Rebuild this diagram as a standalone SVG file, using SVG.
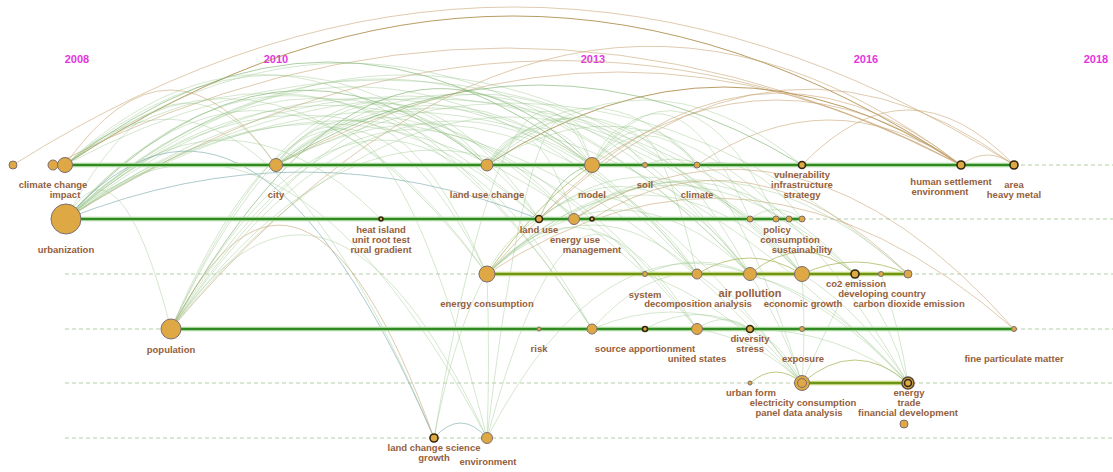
<svg xmlns="http://www.w3.org/2000/svg" width="1113" height="472" viewBox="0 0 1113 472">
<style>
.yr{font-family:"Liberation Sans",Arial,sans-serif;font-weight:bold;font-size:11px;fill:#e535e0;text-anchor:middle}
.lb{font-family:"Liberation Sans",Arial,sans-serif;font-weight:bold;font-size:9.5px;fill:#95603c;text-anchor:middle}
.big{font-size:11px}
.dash{stroke:#cfe0c8;stroke-width:1.3;stroke-dasharray:4 3;fill:none}
.halo{stroke:#a9d49a;stroke-width:4.5;fill:none}
.core{stroke:#2f8a24;stroke-width:2;fill:none}
.haloo{stroke:#c3d47f;stroke-width:4.5;fill:none}
.coreo{stroke:#6c9416;stroke-width:2;fill:none}
#connectors path{fill:none;stroke-width:1}
.g{stroke:#9cc58c;stroke-opacity:.42}
.gd{stroke:#5e9e4c;stroke-opacity:.5}
.t{stroke:#caa97a;stroke-opacity:.6}
.td{stroke:#a8843f;stroke-opacity:.8;stroke-width:1.4}
.b{stroke:#6c9ea2;stroke-opacity:.55}
.o{stroke:#a9b55a;stroke-opacity:.75;stroke-width:1.3}
.n{fill:#dea845;stroke:#7d6d70;stroke-width:1}
.k{fill:#dea845;stroke:#33260f;stroke-width:1.6}
</style>

<g id="years">
<text class="yr" x="77" y="63">2008</text>
<text class="yr" x="276" y="63">2010</text>
<text class="yr" x="593" y="63">2013</text>
<text class="yr" x="866" y="63">2016</text>
<text class="yr" x="1096" y="63">2018</text>
</g>

<g id="gridlines">
<line class="dash" x1="1014" y1="165" x2="1113" y2="165"/>
<line class="dash" x1="802" y1="219" x2="1113" y2="219"/>
<line class="dash" x1="65" y1="274" x2="487" y2="274"/>
<line class="dash" x1="908" y1="274" x2="1113" y2="274"/>
<line class="dash" x1="65" y1="329" x2="171" y2="329"/>
<line class="dash" x1="1014" y1="329" x2="1113" y2="329"/>
<line class="dash" x1="65" y1="383" x2="1113" y2="383"/>
<line class="dash" x1="65" y1="438" x2="1113" y2="438"/>
</g>

<g id="connectors">
<path class="t" d="M13 165 Q513.5 -151 1014 165"/>
<path class="td" d="M65 165 Q513 -133 961 165"/>
<path class="t" d="M53 165 Q507 -69 961 165"/>
<path class="t" d="M171 329 Q566 -137 961 165"/>
<path class="t" d="M276 165 Q618.5 -21 961 165"/>
<path class="td" d="M487 165 Q724 9 961 165"/>
<path class="t" d="M592 165 Q776.5 35 961 165"/>
<path class="t" d="M66 219 Q513.5 -68 961 165"/>
<path class="t" d="M961 165 Q987.5 145 1014 165"/>
<path class="t" d="M487 274 Q750.5 -29.5 1014 165"/>
<path class="t" d="M697 165 Q829 75 961 165"/>
<path class="t" d="M802 165 Q908 55 1014 165"/>
<path class="t" d="M487 274 Q750.5 98.5 1014 329"/>
<path class="t" d="M539 219 Q750 -2 961 165"/>
<path class="t" d="M65 165 Q170.5 15 276 165"/>
<path class="g" d="M65 165 Q276 -15 487 165"/>
<path class="gd" d="M65 165 Q328.5 -41 592 165"/>
<path class="g" d="M65 165 Q302 -2 539 219"/>
<path class="g" d="M65 165 Q276 -9.5 487 274"/>
<path class="g" d="M65 165 Q407.5 -83.5 750 274"/>
<path class="g" d="M65 165 Q328.5 -77 592 329"/>
<path class="g" d="M65 165 Q381 -5 697 165"/>
<path class="g" d="M65 165 Q249.5 -1.5 434 438"/>
<path class="g" d="M66 219 Q171 18 276 165"/>
<path class="gd" d="M66 219 Q276.5 -8 487 165"/>
<path class="g" d="M66 219 Q329 8 592 165"/>
<path class="g" d="M66 219 Q223.5 61 381 219"/>
<path class="g" d="M66 219 Q302.5 11 539 219"/>
<path class="g" d="M66 219 Q320 -23 574 219"/>
<path class="g" d="M66 219 Q276.5 -22.5 487 274"/>
<path class="g" d="M66 219 Q329 -74 592 329"/>
<path class="g" d="M66 219 Q381.5 -70.5 697 274"/>
<path class="g" d="M66 219 Q408 -86.5 750 274"/>
<path class="g" d="M66 219 Q434 -94.5 802 274"/>
<path class="g" d="M66 219 Q381.5 -54 697 329"/>
<path class="g" d="M66 219 Q408 -27 750 219"/>
<path class="g" d="M66 219 Q355.5 3.5 645 274"/>
<path class="b" d="M66 219 Q250 11.5 434 438"/>
<path class="g" d="M66 219 Q276.5 41.5 487 438"/>
<path class="g" d="M66 219 Q460.5 -46.5 855 274"/>
<path class="b" d="M66 219 Q302.5 125 539 219"/>
<path class="g" d="M66 219 Q118.5 126 171 329"/>
<path class="g" d="M66 219 Q487 -60 908 383"/>
<path class="g" d="M66 219 Q434 -40 802 383"/>
<path class="g" d="M171 329 Q329 -17 487 165"/>
<path class="gd" d="M171 329 Q381.5 -47 592 165"/>
<path class="g" d="M171 329 Q329 -41.5 487 274"/>
<path class="g" d="M171 329 Q355 -58 539 219"/>
<path class="g" d="M171 329 Q460.5 -111.5 750 274"/>
<path class="g" d="M171 329 Q486.5 -65.5 802 274"/>
<path class="g" d="M171 329 Q381.5 -49 592 329"/>
<path class="g" d="M171 329 Q434 -57.5 697 274"/>
<path class="g" d="M171 329 Q372.5 -4 574 219"/>
<path class="g" d="M171 329 Q434 -29 697 329"/>
<path class="g" d="M171 329 Q329 96.5 487 438"/>
<path class="t" d="M171 329 Q302.5 76.5 434 438"/>
<path class="g" d="M276 165 Q434 51 592 165"/>
<path class="g" d="M276 165 Q381.5 36.5 487 274"/>
<path class="g" d="M276 165 Q407.5 48 539 219"/>
<path class="g" d="M276 165 Q513 -19.5 750 274"/>
<path class="gd" d="M276 165 Q539 5 802 165"/>
<path class="g" d="M276 165 Q486.5 4.5 697 274"/>
<path class="g" d="M276 165 Q381.5 18.5 487 438"/>
<path class="g" d="M276 165 Q539 20 802 383"/>
<path class="g" d="M276 165 Q592 0 908 274"/>
<path class="g" d="M487 165 Q539.5 91 592 165"/>
<path class="g" d="M487 165 Q566 71 645 165"/>
<path class="g" d="M487 165 Q592 51 697 165"/>
<path class="g" d="M487 165 Q644.5 35 802 165"/>
<path class="g" d="M487 165 Q530.5 88 574 219"/>
<path class="g" d="M487 165 Q618.5 30.5 750 274"/>
<path class="g" d="M487 165 Q697.5 26 908 383"/>
<path class="gd" d="M592 165 Q560 172 539 219"/>
<path class="g" d="M592 165 Q644.5 95 697 165"/>
<path class="g" d="M592 165 Q697 16.5 802 274"/>
<path class="g" d="M592 165 Q644.5 50 697 274"/>
<path class="g" d="M592 165 Q671 40 750 219"/>
<path class="g" d="M592 165 Q697 50 802 383"/>
<path class="o" d="M487 274 Q540 200 592 165"/>
<path class="g" d="M487 274 Q618.5 146 750 274"/>
<path class="g" d="M487 274 Q644.5 116 802 274"/>
<path class="g" d="M487 274 Q592 176 697 274"/>
<path class="g" d="M487 274 Q697.5 86 908 274"/>
<path class="g" d="M487 274 Q490 360 487 438"/>
<path class="g" d="M487 274 Q592 158.5 697 329"/>
<path class="g" d="M487 274 Q671 96 855 274"/>
<path class="g" d="M539 219 Q618 153.5 697 274"/>
<path class="g" d="M539 219 Q644.5 133 750 274"/>
<path class="g" d="M539 219 Q670.5 113 802 274"/>
<path class="g" d="M574 219 Q688 123 802 274"/>
<path class="g" d="M574 219 Q714.5 123 855 274"/>
<path class="t" d="M574 219 Q794 80 1014 329"/>
<path class="t" d="M592 219 Q750 120 908 274"/>
<path class="g" d="M750 219 Q776 200 802 219"/>
<path class="g" d="M697 165 Q750 150 802 219"/>
<path class="g" d="M645 165 Q700 140 776 219"/>
<path class="o" d="M750 274 Q802.5 230 855 274"/>
<path class="o" d="M697 274 Q749.5 242 802 274"/>
<path class="o" d="M802 274 Q855 250 908 274"/>
<path class="g" d="M645 274 Q697.5 250 750 274"/>
<path class="g" d="M592 329 Q671 295 750 329"/>
<path class="g" d="M592 329 Q644.5 270 697 274"/>
<path class="g" d="M645 329 Q697.5 300 750 329"/>
<path class="g" d="M697 329 Q723.5 310 750 329"/>
<path class="o" d="M750 383 Q776 361 802 383"/>
<path class="o" d="M802 383 Q855 337 908 383"/>
<path class="g" d="M802 383 Q780 320 750 274"/>
<path class="g" d="M802 383 Q806 330 802 274"/>
<path class="g" d="M802 383 Q750 310 697 274"/>
<path class="g" d="M802 383 Q830 320 855 274"/>
<path class="g" d="M802 383 Q720 300 645 274"/>
<path class="g" d="M802 383 Q760 340 697 329"/>
<path class="g" d="M802 383 Q780 340 750 329"/>
<path class="g" d="M908 383 Q890 320 855 274"/>
<path class="g" d="M908 383 Q860 310 802 274"/>
<path class="g" d="M908 383 Q830 300 750 274"/>
<path class="g" d="M908 383 Q900 330 881 274"/>
<path class="g" d="M908 383 Q840 330 750 329"/>
<path class="g" d="M908 383 Q800 260 697 274"/>
<path class="b" d="M434 438 Q460.5 408 487 438"/>
<path class="g" d="M434 438 Q513 -21.5 592 165"/>
<path class="g" d="M487 438 Q566 144 645 274"/>
<path class="g" d="M487 438 Q539.5 -1.5 592 165"/>
<path class="g" d="M487 438 Q600 220 750 274"/>
<path class="g" d="M434 438 Q470 250 539 219"/>
</g>

<g id="timelines">
<line class="halo" x1="65" y1="165" x2="1014" y2="165"/>
<line class="core" x1="65" y1="165" x2="1014" y2="165"/>
<line class="halo" x1="66" y1="219" x2="802" y2="219"/>
<line class="core" x1="66" y1="219" x2="802" y2="219"/>
<line class="haloo" x1="487" y1="274" x2="908" y2="274"/>
<line class="coreo" x1="487" y1="274" x2="908" y2="274"/>
<line class="halo" x1="171" y1="329" x2="1014" y2="329"/>
<line class="core" x1="171" y1="329" x2="1014" y2="329"/>
<line class="haloo" x1="802" y1="383" x2="908" y2="383"/>
<line class="coreo" x1="802" y1="383" x2="908" y2="383"/>
</g>

<g id="node-a0"><circle class="n" cx="13" cy="165" r="4"/></g>
<g id="node-climate-change"><circle class="n" cx="53" cy="165" r="5"/><text class="lb" x="53" y="188">climate change</text></g>
<g id="node-impact"><circle class="n" cx="65" cy="165" r="7.5"/><text class="lb" x="65" y="198">impact</text></g>
<g id="node-city"><circle class="n" cx="276" cy="165" r="6.5"/><text class="lb" x="276" y="198">city</text></g>
<g id="node-land-use-change"><circle class="n" cx="487" cy="165" r="6"/><text class="lb" x="487" y="198">land use change</text></g>
<g id="node-model"><circle class="n" cx="592" cy="165" r="7.5"/><text class="lb" x="592" y="198">model</text></g>
<g id="node-soil"><circle class="n" cx="645" cy="165" r="2.5"/><text class="lb" x="645" y="188">soil</text></g>
<g id="node-climate"><circle class="n" cx="697" cy="165" r="3"/><text class="lb" x="697" y="198">climate</text></g>
<g id="node-vulnerability"><circle class="k" cx="802" cy="165" r="3.5"/><text class="lb" x="802" y="178">vulnerability</text><text class="lb" x="802" y="188">infrastructure</text><text class="lb" x="802" y="198">strategy</text></g>
<g id="node-human-settlement"><circle class="k" cx="961" cy="165" r="4"/><text class="lb" x="951" y="185">human settlement</text><text class="lb" x="940" y="195">environment</text></g>
<g id="node-area"><circle class="k" cx="1014" cy="165" r="4"/><text class="lb" x="1014" y="188">area</text><text class="lb" x="1014" y="198">heavy metal</text></g>

<g id="node-urbanization"><circle class="n" cx="66" cy="219" r="15"/><text class="lb" x="66" y="253">urbanization</text></g>
<g id="node-heat-island"><circle class="k" cx="381" cy="219" r="2"/><text class="lb" x="381" y="233">heat island</text><text class="lb" x="381" y="243">unit root test</text><text class="lb" x="381" y="253">rural gradient</text></g>
<g id="node-land-use"><circle class="k" cx="539" cy="219" r="3.5"/><text class="lb" x="539" y="233">land use</text></g>
<g id="node-energy-use"><circle class="n" cx="574" cy="219" r="5.5"/><text class="lb" x="575" y="243">energy use</text></g>
<g id="node-management"><circle class="k" cx="592" cy="219" r="2"/><text class="lb" x="592" y="253">management</text></g>
<g id="node-policy"><circle class="n" cx="750" cy="219" r="3"/><circle class="n" cx="776" cy="219" r="3"/><circle class="n" cx="789" cy="219" r="3"/><circle class="n" cx="802" cy="219" r="3"/><text class="lb" x="777" y="233">policy</text><text class="lb" x="790" y="243">consumption</text><text class="lb" x="802" y="253">sustainability</text></g>

<g id="node-energy-consumption"><circle class="n" cx="487" cy="274" r="8"/><text class="lb" x="487" y="307">energy consumption</text></g>
<g id="node-system"><circle class="n" cx="645" cy="274" r="2.5"/><text class="lb" x="645" y="298">system</text></g>
<g id="node-decomposition"><circle class="n" cx="697" cy="274" r="5"/><text class="lb" x="698" y="307">decomposition analysis</text></g>
<g id="node-air-pollution"><circle class="n" cx="750" cy="274" r="6.5"/><text class="lb big" x="750" y="297">air pollution</text></g>
<g id="node-economic-growth"><circle class="n" cx="802" cy="274" r="7.5"/><text class="lb" x="803" y="307">economic growth</text></g>
<g id="node-co2"><circle class="k" cx="855" cy="274" r="4"/><text class="lb" x="856" y="287">co2 emission</text></g>
<g id="node-developing-country"><circle class="n" cx="881" cy="274" r="2.5"/><text class="lb" x="882" y="297">developing country</text></g>
<g id="node-carbon-dioxide"><circle class="n" cx="908" cy="274" r="4"/><text class="lb" x="909" y="307">carbon dioxide emission</text></g>

<g id="node-population"><circle class="n" cx="171" cy="329" r="10"/><text class="lb" x="171" y="353">population</text></g>
<g id="node-risk"><circle class="n" cx="539" cy="329" r="2"/><text class="lb" x="539" y="352">risk</text></g>
<g id="node-source-apportionment"><circle class="n" cx="592" cy="329" r="5"/><circle class="k" cx="645" cy="329" r="2.5"/><text class="lb" x="645" y="352">source apportionment</text></g>
<g id="node-united-states"><circle class="n" cx="697" cy="329" r="5.5"/><text class="lb" x="697" y="362">united states</text></g>
<g id="node-diversity"><circle class="k" cx="750" cy="329" r="3.5"/><text class="lb" x="750" y="342">diversity</text><text class="lb" x="750" y="352">stress</text></g>
<g id="node-exposure"><circle class="n" cx="802" cy="329" r="2.5"/><text class="lb" x="803" y="362">exposure</text></g>
<g id="node-fine-particulate"><circle class="n" cx="1014" cy="329" r="2.5"/><text class="lb" x="1014" y="362">fine particulate matter</text></g>

<g id="node-urban-form"><circle class="n" cx="750" cy="383" r="2"/><text class="lb" x="751" y="396">urban form</text></g>
<g id="node-electricity"><circle class="n" cx="802" cy="383" r="7.5"/><circle class="n" cx="802" cy="383" r="4.5"/><text class="lb" x="803" y="406">electricity consumption</text><text class="lb" x="799" y="416">panel data analysis</text></g>
<g id="node-energy"><circle class="k" cx="908" cy="383" r="6" style="stroke:#5a4a40"/><circle class="k" cx="908" cy="383" r="3.5"/><text class="lb" x="909" y="396">energy</text><text class="lb" x="909" y="406">trade</text><text class="lb" x="908" y="416">financial development</text></g>
<g id="node-financial"><circle class="n" cx="904" cy="424" r="4"/></g>

<g id="node-land-change-science"><circle class="k" cx="434" cy="438" r="4"/><text class="lb" x="434" y="451">land change science</text><text class="lb" x="434" y="461">growth</text></g>
<g id="node-environment"><circle class="n" cx="487" cy="438" r="5.5"/><text class="lb" x="488" y="465">environment</text></g>
</svg>
